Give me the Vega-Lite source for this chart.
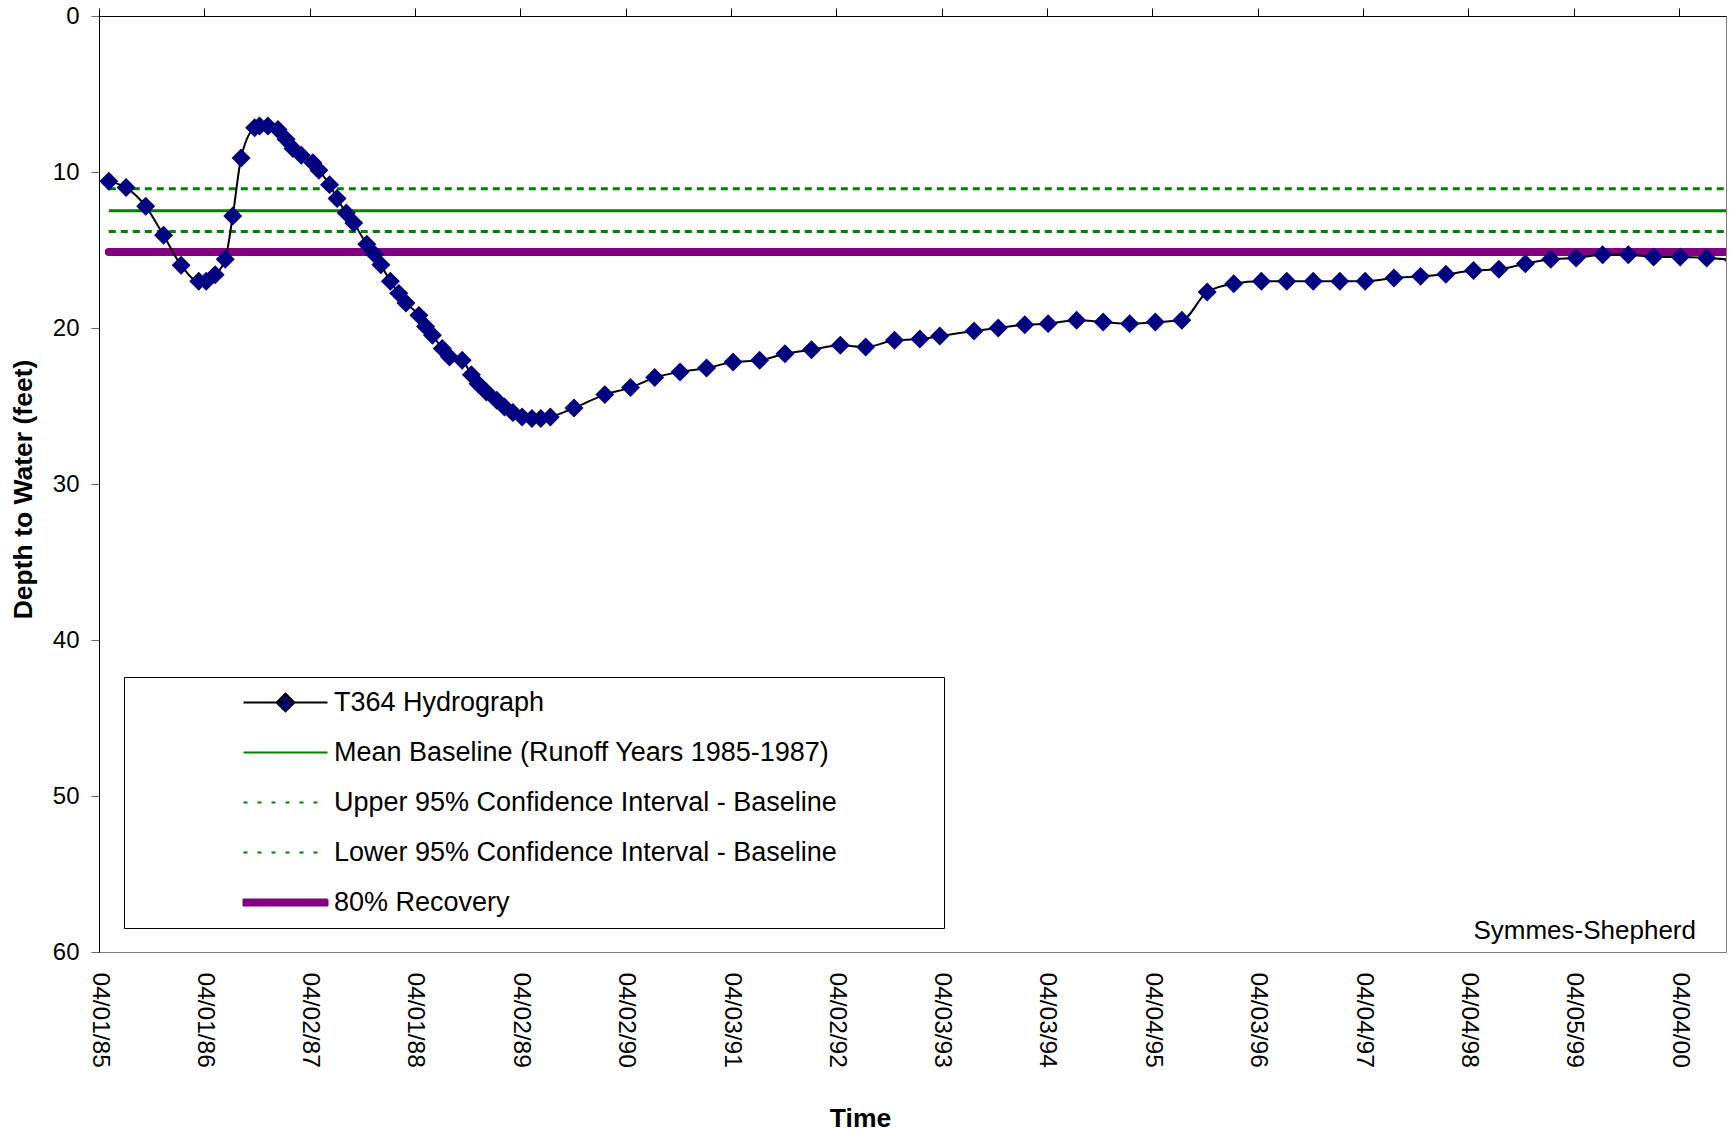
{
  "$schema": "https://vega.github.io/schema/vega-lite/v6.json",
  "width": 1627,
  "height": 936,
  "autosize": {"type": "none"},
  "padding": {"left": 99, "top": 16, "right": 6, "bottom": 182},
  "background": "white",
  "title": {
    "text": "Symmes-Shepherd",
    "orient": "top",
    "anchor": "end",
    "frame": "group",
    "offset": -966,
    "baseline": "bottom",
    "dx": -30,
    "font": "Liberation Sans",
    "fontSize": 26,
    "fontWeight": "normal",
    "color": "black"
  },
  "datasets": {
    "hydro": [
      {"date": "1985-05-05", "depth": 10.6},
      {"date": "1985-07-04", "depth": 11.0},
      {"date": "1985-09-10", "depth": 12.2},
      {"date": "1985-11-11", "depth": 14.06},
      {"date": "1986-01-11", "depth": 15.98},
      {"date": "1986-03-13", "depth": 17.0},
      {"date": "1986-04-08", "depth": 17.0},
      {"date": "1986-05-09", "depth": 16.58},
      {"date": "1986-06-13", "depth": 15.6},
      {"date": "1986-07-09", "depth": 12.82},
      {"date": "1986-08-07", "depth": 9.1},
      {"date": "1986-09-23", "depth": 7.16},
      {"date": "1986-10-10", "depth": 7.05},
      {"date": "1986-11-08", "depth": 7.05},
      {"date": "1986-12-13", "depth": 7.28},
      {"date": "1987-01-10", "depth": 7.9},
      {"date": "1987-02-03", "depth": 8.5},
      {"date": "1987-03-04", "depth": 8.93},
      {"date": "1987-04-13", "depth": 9.4},
      {"date": "1987-05-04", "depth": 9.89},
      {"date": "1987-06-10", "depth": 10.81},
      {"date": "1987-07-06", "depth": 11.7},
      {"date": "1987-08-07", "depth": 12.63},
      {"date": "1987-09-02", "depth": 13.27},
      {"date": "1987-10-17", "depth": 14.63},
      {"date": "1987-11-13", "depth": 15.28},
      {"date": "1987-12-05", "depth": 15.95},
      {"date": "1988-01-07", "depth": 17.0},
      {"date": "1988-02-05", "depth": 17.78},
      {"date": "1988-03-01", "depth": 18.4},
      {"date": "1988-04-15", "depth": 19.19},
      {"date": "1988-05-08", "depth": 19.9},
      {"date": "1988-06-01", "depth": 20.47},
      {"date": "1988-07-05", "depth": 21.32},
      {"date": "1988-07-30", "depth": 21.86},
      {"date": "1988-09-12", "depth": 22.07},
      {"date": "1988-10-14", "depth": 22.99},
      {"date": "1988-11-06", "depth": 23.57},
      {"date": "1988-12-05", "depth": 24.1},
      {"date": "1989-01-10", "depth": 24.63},
      {"date": "1989-02-06", "depth": 25.06},
      {"date": "1989-03-07", "depth": 25.42},
      {"date": "1989-04-08", "depth": 25.7},
      {"date": "1989-05-12", "depth": 25.8},
      {"date": "1989-06-12", "depth": 25.8},
      {"date": "1989-07-15", "depth": 25.7},
      {"date": "1989-10-05", "depth": 25.13},
      {"date": "1990-01-20", "depth": 24.27},
      {"date": "1990-04-19", "depth": 23.82},
      {"date": "1990-07-12", "depth": 23.18},
      {"date": "1990-10-08", "depth": 22.82},
      {"date": "1991-01-08", "depth": 22.57},
      {"date": "1991-04-10", "depth": 22.18},
      {"date": "1991-07-11", "depth": 22.07},
      {"date": "1991-10-07", "depth": 21.65},
      {"date": "1992-01-07", "depth": 21.39},
      {"date": "1992-04-16", "depth": 21.11},
      {"date": "1992-07-13", "depth": 21.22},
      {"date": "1992-10-21", "depth": 20.79},
      {"date": "1993-01-17", "depth": 20.71},
      {"date": "1993-03-27", "depth": 20.51},
      {"date": "1993-07-24", "depth": 20.19},
      {"date": "1993-10-16", "depth": 20.0},
      {"date": "1994-01-16", "depth": 19.79},
      {"date": "1994-04-07", "depth": 19.72},
      {"date": "1994-07-15", "depth": 19.51},
      {"date": "1994-10-15", "depth": 19.62},
      {"date": "1995-01-15", "depth": 19.72},
      {"date": "1995-04-14", "depth": 19.62},
      {"date": "1995-07-15", "depth": 19.51},
      {"date": "1995-10-11", "depth": 17.69},
      {"date": "1996-01-11", "depth": 17.16},
      {"date": "1996-04-16", "depth": 17.01},
      {"date": "1996-07-13", "depth": 17.01},
      {"date": "1996-10-13", "depth": 17.01},
      {"date": "1997-01-13", "depth": 17.01},
      {"date": "1997-04-11", "depth": 17.01},
      {"date": "1997-07-20", "depth": 16.8},
      {"date": "1997-10-20", "depth": 16.69},
      {"date": "1998-01-16", "depth": 16.56},
      {"date": "1998-04-22", "depth": 16.31},
      {"date": "1998-07-19", "depth": 16.24},
      {"date": "1998-10-19", "depth": 15.88},
      {"date": "1999-01-15", "depth": 15.6},
      {"date": "1999-04-13", "depth": 15.51},
      {"date": "1999-07-14", "depth": 15.3},
      {"date": "1999-10-11", "depth": 15.3},
      {"date": "2000-01-07", "depth": 15.45},
      {"date": "2000-04-08", "depth": 15.45},
      {"date": "2000-07-09", "depth": 15.51},
      {"date": "2000-10-09", "depth": 15.63}
    ],
    "baselines": [
      {"series": "Mean Baseline (Runoff Years 1985-1987)", "date": "1985-05-05", "end": "2000-09-14", "depth": 12.48},
      {"series": "Upper 95% Confidence Interval - Baseline", "date": "1985-05-05", "end": "2000-09-14", "depth": 11.08},
      {"series": "Lower 95% Confidence Interval - Baseline", "date": "1985-05-05", "end": "2000-09-14", "depth": 13.82}
    ],
    "recovery": [
      {"series": "80% Recovery", "date": "1985-05-05", "end": "2000-09-14", "depth": 15.13}
    ]
  },
  "encoding": {
    "y": {
      "field": "depth",
      "type": "quantitative",
      "scale": {"domain": [0, 60], "reverse": true, "nice": false, "zero": true},
      "axis": {
        "title": "Depth to Water (feet)",
        "orient": "left",
        "values": [0, 10, 20, 30, 40, 50, 60],
        "tickSize": 8,
        "tickColor": "#666666",
        "domainColor": "black",
        "labelFont": "Liberation Sans",
        "labelFontSize": 24,
        "labelPadding": 12,
        "labelColor": "black",
        "labelFlush": false,
        "titleFont": "Liberation Sans",
        "titleFontSize": 26.5,
        "titleFontWeight": "bold",
        "titleColor": "black",
        "titleAngle": 270,
        "titleX": -76,
        "titleY": 473,
        "titleAlign": "center",
        "titleBaseline": "middle",
        "grid": false
      }
    }
  },
  "layer": [
    {
      "data": {"name": "baselines"},
      "mark": {"type": "rule", "strokeWidth": 3},
      "encoding": {
        "x": {
          "field": "date",
          "type": "temporal",
          "scale": {"type": "utc", "domain": [{"year": 1985, "month": 4, "date": 1, "utc": true}, {"year": 2000, "month": 9, "date": 14, "utc": true}]},
          "axis": {
            "orient": "bottom",
            "values": [
              {"year": 1985, "month": 4, "date": 1, "utc": true},
              {"year": 1986, "month": 4, "date": 1, "utc": true},
              {"year": 1987, "month": 4, "date": 2, "utc": true},
              {"year": 1988, "month": 4, "date": 1, "utc": true},
              {"year": 1989, "month": 4, "date": 2, "utc": true},
              {"year": 1990, "month": 4, "date": 2, "utc": true},
              {"year": 1991, "month": 4, "date": 3, "utc": true},
              {"year": 1992, "month": 4, "date": 2, "utc": true},
              {"year": 1993, "month": 4, "date": 3, "utc": true},
              {"year": 1994, "month": 4, "date": 3, "utc": true},
              {"year": 1995, "month": 4, "date": 4, "utc": true},
              {"year": 1996, "month": 4, "date": 3, "utc": true},
              {"year": 1997, "month": 4, "date": 4, "utc": true},
              {"year": 1998, "month": 4, "date": 4, "utc": true},
              {"year": 1999, "month": 4, "date": 5, "utc": true},
              {"year": 2000, "month": 4, "date": 4, "utc": true}
            ],
            "format": "%m/%d/%y",
            "ticks": false,
            "tickSize": 0,
            "domain": true,
            "domainColor": "#808080",
            "labelAngle": 90,
            "labelAlign": "left",
            "labelBaseline": "middle",
            "labelPadding": 20,
            "labelFont": "Liberation Sans",
            "labelFontSize": 24.5,
            "labelColor": "black",
            "labelOverlap": false,
            "labelFlush": false,
            "title": "Time",
            "titleFont": "Liberation Sans",
            "titleFontSize": 26.5,
            "titleFontWeight": "bold",
            "titleColor": "black",
            "titleX": 761,
            "titleY": 166,
            "titleAlign": "center",
            "titleBaseline": "middle",
            "grid": false
          }
        },
        "x2": {"field": "end"},
        "color": {
          "field": "series",
          "type": "nominal",
          "scale": {
            "domain": ["T364 Hydrograph", "Mean Baseline (Runoff Years 1985-1987)", "Upper 95% Confidence Interval - Baseline", "Lower 95% Confidence Interval - Baseline", "80% Recovery"],
            "range": ["#000000", "#008000", "#008000", "#008000", "#800080"]
          },
          "legend": {
            "title": null,
            "orient": "none",
            "legendX": 25,
            "legendY": 661,
            "padding": 12,
            "strokeColor": "black",
            "fillColor": "white",
            "symbolType": "stroke",
            "symbolSize": 441,
            "symbolStrokeWidth": 2,
            "symbolOffset": 136,
            "labelOffset": 35,
            "labelFont": "Liberation Sans",
            "labelFontSize": 27,
            "labelColor": "black",
            "labelLimit": 1000,
            "rowPadding": 22,
            "encode": {
              "symbols": {
                "update": {
                  "shape": {"signal": "datum.value === 'T364 Hydrograph' ? 'M-4,0H4M-0.85,0L0,-0.85L0.85,0L0,0.85ZM61.4,0' : (datum.value === '80% Recovery' ? 'M-4,-0.28H4V0.28H-4Z' : 'M-4,0H4')"},
                  "fill": {"signal": "datum.value === 'T364 Hydrograph' ? '#000080' : (datum.value === '80% Recovery' ? '#800080' : 'transparent')"},
                  "strokeDash": {"signal": "(datum.value === 'Upper 95% Confidence Interval - Baseline' || datum.value === 'Lower 95% Confidence Interval - Baseline') ? [4, 10] : [1, 0]"},
                  "strokeJoin": {"value": "round"},
                  "opacity": {"value": 1}
                }
              }
            }
          }
        },
        "strokeDash": {
          "field": "series",
          "type": "nominal",
          "scale": {
            "domain": ["Mean Baseline (Runoff Years 1985-1987)", "Upper 95% Confidence Interval - Baseline", "Lower 95% Confidence Interval - Baseline"],
            "range": [[1, 0], [7, 5], [7, 5]]
          },
          "legend": null
        }
      }
    },
    {
      "data": {"name": "recovery"},
      "mark": {"type": "rule", "strokeWidth": 8, "strokeCap": "round", "clip": true},
      "encoding": {
        "x": {"field": "date", "type": "temporal", "axis": null},
        "x2": {"field": "end"},
        "color": {"field": "series", "type": "nominal"}
      }
    },
    {
      "data": {"name": "hydro"},
      "mark": {"type": "line", "strokeWidth": 2, "interpolate": "monotone", "clip": true},
      "encoding": {
        "x": {
          "field": "date",
          "type": "temporal",
          "axis": {
            "orient": "top",
            "values": [
              {"year": 1985, "month": 4, "date": 1, "utc": true},
              {"year": 1986, "month": 4, "date": 1, "utc": true},
              {"year": 1987, "month": 4, "date": 2, "utc": true},
              {"year": 1988, "month": 4, "date": 1, "utc": true},
              {"year": 1989, "month": 4, "date": 2, "utc": true},
              {"year": 1990, "month": 4, "date": 2, "utc": true},
              {"year": 1991, "month": 4, "date": 3, "utc": true},
              {"year": 1992, "month": 4, "date": 2, "utc": true},
              {"year": 1993, "month": 4, "date": 3, "utc": true},
              {"year": 1994, "month": 4, "date": 3, "utc": true},
              {"year": 1995, "month": 4, "date": 4, "utc": true},
              {"year": 1996, "month": 4, "date": 3, "utc": true},
              {"year": 1997, "month": 4, "date": 4, "utc": true},
              {"year": 1998, "month": 4, "date": 4, "utc": true},
              {"year": 1999, "month": 4, "date": 5, "utc": true},
              {"year": 2000, "month": 4, "date": 4, "utc": true}
            ],
            "labels": false,
            "ticks": true,
            "tickSize": 8,
            "tickColor": "black",
            "domain": true,
            "domainColor": "black",
            "title": null,
            "grid": false
          }
        },
        "color": {"datum": "T364 Hydrograph", "type": "nominal"}
      }
    },
    {
      "data": {"name": "hydro"},
      "mark": {"type": "point", "shape": "diamond", "filled": true, "size": 360, "color": "#000080", "opacity": 1, "clip": true},
      "encoding": {
        "x": {"field": "date", "type": "temporal", "axis": null}
      }
    }
  ],
  "resolve": {"axis": {"x": "independent"}},
  "config": {
    "view": {"stroke": "#808080", "strokeWidth": 1},
    "font": "Liberation Sans",
    "axis": {"grid": false}
  }
}
